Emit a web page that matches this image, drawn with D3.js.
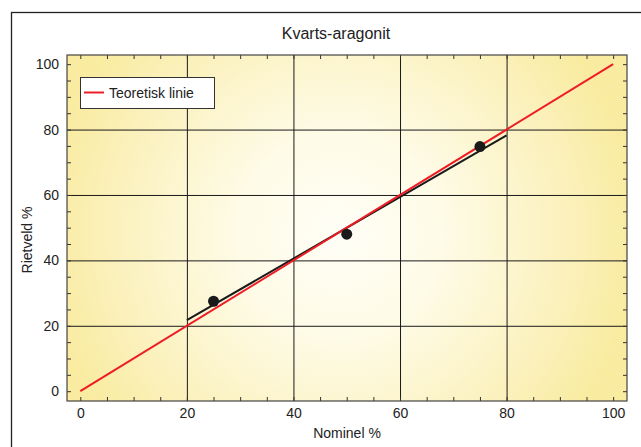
<!DOCTYPE html>
<html>
<head>
<meta charset="utf-8">
<script src="https://cdn.jsdelivr.net/npm/d3@7"></script>
<style>
  html, body { margin: 0; padding: 0; background: #fff; }
  svg { display: block; font-family: "Liberation Sans", Arial, Helvetica, sans-serif; }
</style>
</head>
<body>
<svg id="chart" width="641" height="447"></svg>
<script>
// ---- data ----
const title = "Kvarts-aragonit";
const xLabel = "Nominel %";
const yLabel = "Rietveld %";
const legendLabel = "Teoretisk linie";

const nominel = [25, 50, 75];
const rietveld = [27.5, 48, 74.8];

const fitX = [20, 80];
const fitY = [21.7, 78.2];

const theoX = [0, 100];
const theoY = [0, 100];

const xTickLabels = [0, 20, 40, 60, 80, 100];
const yTickLabels = [0, 20, 40, 60, 80, 100];
const gridValues = [20, 40, 60, 80];
const minorTicks = d3.range(0, 101, 5);

// ---- layout ----
const svg = d3.select("#chart");
const pL = 67, pR = 627, pT = 55, pB = 401;
const W = pR - pL, H = pB - pT;

const x = d3.scaleLinear().domain([-2.5, 102.6]).range([pL, pR]);
const y = d3.scaleLinear().domain([-3.0, 102.8]).range([pB, pT]);

// outer frame
svg.append("rect")
  .attr("x", 11.5).attr("y", 12.5)
  .attr("width", 660).attr("height", 460)
  .attr("fill", "#fff").attr("stroke", "#222").attr("stroke-width", 1.3);

// background gradient
const defs = svg.append("defs");
const grad = defs.append("radialGradient")
  .attr("id", "bg").attr("gradientUnits", "userSpaceOnUse")
  .attr("cx", 340).attr("cy", 235).attr("r", 300);
grad.append("stop").attr("offset", 0).attr("stop-color", "#fffef6");
grad.append("stop").attr("offset", 0.35).attr("stop-color", "#fefbe6");
grad.append("stop").attr("offset", 0.75).attr("stop-color", "#fbf1bd");
grad.append("stop").attr("offset", 1).attr("stop-color", "#f9eb9f");

svg.append("rect")
  .attr("x", pL).attr("y", pT).attr("width", W).attr("height", H)
  .attr("fill", "url(#bg)");

// grid lines
svg.append("g").attr("transform", `translate(0,${pB})`)
  .call(d3.axisBottom(x).tickValues(gridValues).tickSize(-H).tickFormat(""))
  .call(g => g.select(".domain").remove())
  .call(g => g.selectAll("line").attr("stroke", "#1a1a1a").attr("stroke-width", 1));
svg.append("g").attr("transform", `translate(${pL},0)`)
  .call(d3.axisLeft(y).tickValues(gridValues).tickSize(-W).tickFormat(""))
  .call(g => g.select(".domain").remove())
  .call(g => g.selectAll("line").attr("stroke", "#1a1a1a").attr("stroke-width", 1));

// minor ticks on all sides (inward)
function styleTicks(g) {
  g.select(".domain").remove();
  g.selectAll("line").attr("stroke", "#333").attr("stroke-width", 1);
}
svg.append("g").attr("transform", `translate(0,${pB})`)
  .call(d3.axisBottom(x).tickValues(minorTicks).tickSize(-4).tickFormat("")).call(styleTicks);
svg.append("g").attr("transform", `translate(0,${pT})`)
  .call(d3.axisTop(x).tickValues(minorTicks).tickSize(-4).tickFormat("")).call(styleTicks);
svg.append("g").attr("transform", `translate(${pL},0)`)
  .call(d3.axisLeft(y).tickValues(minorTicks).tickSize(-4).tickFormat("")).call(styleTicks);
svg.append("g").attr("transform", `translate(${pR},0)`)
  .call(d3.axisRight(y).tickValues(minorTicks).tickSize(-4).tickFormat("")).call(styleTicks);

// tick labels
svg.append("g").attr("transform", `translate(0,${pB})`)
  .call(d3.axisBottom(x).tickValues(xTickLabels).tickSize(0).tickPadding(7))
  .call(g => g.select(".domain").remove())
  .call(g => g.selectAll("text").attr("font-size", 14).attr("fill", "#222")
    .attr("font-family", "Liberation Sans, Arial, sans-serif"));
svg.append("g").attr("transform", `translate(${pL},0)`)
  .call(d3.axisLeft(y).tickValues(yTickLabels).tickSize(0).tickPadding(8))
  .call(g => g.select(".domain").remove())
  .call(g => g.selectAll("text").attr("font-size", 14).attr("fill", "#222")
    .attr("font-family", "Liberation Sans, Arial, sans-serif"));

// plot border
svg.append("rect")
  .attr("x", pL).attr("y", pT).attr("width", W).attr("height", H)
  .attr("fill", "none").attr("stroke", "#444").attr("stroke-width", 1.2);

// fit line (black)
const line = d3.line().x(d => x(d[0])).y(d => y(d[1]));
svg.append("path")
  .datum(d3.zip(fitX, fitY))
  .attr("d", line).attr("fill", "none")
  .attr("stroke", "#1a1a1a").attr("stroke-width", 2);

// theoretical line (red)
svg.append("path")
  .datum(d3.zip(theoX, theoY))
  .attr("d", line).attr("fill", "none")
  .attr("stroke", "#ee1c25").attr("stroke-width", 2);

// points
svg.append("g").selectAll("circle")
  .data(d3.zip(nominel, rietveld))
  .join("circle")
  .attr("cx", d => x(d[0])).attr("cy", d => y(d[1]))
  .attr("r", 5.5).attr("fill", "#1a1a1a");

// legend
const lg = svg.append("g");
lg.append("rect").attr("x", 80.5).attr("y", 77.5).attr("width", 134).attr("height", 31)
  .attr("fill", "#fff").attr("stroke", "#333").attr("stroke-width", 1);
lg.append("line").attr("x1", 84).attr("x2", 104).attr("y1", 92.5).attr("y2", 92.5)
  .attr("stroke", "#ee1c25").attr("stroke-width", 2);
lg.append("text").attr("x", 109).attr("y", 97.5)
  .attr("font-size", 14).attr("fill", "#222").text(legendLabel);

// title & axis labels
svg.append("text").attr("x", 336).attr("y", 39)
  .attr("text-anchor", "middle").attr("font-size", 16).attr("fill", "#222").text(title);
svg.append("text").attr("x", 347).attr("y", 438)
  .attr("text-anchor", "middle").attr("font-size", 14).attr("fill", "#222").text(xLabel);
svg.append("text")
  .attr("transform", "translate(32,240) rotate(-90)")
  .attr("text-anchor", "middle").attr("font-size", 14).attr("fill", "#222").text(yLabel);
</script>
</body>
</html>
